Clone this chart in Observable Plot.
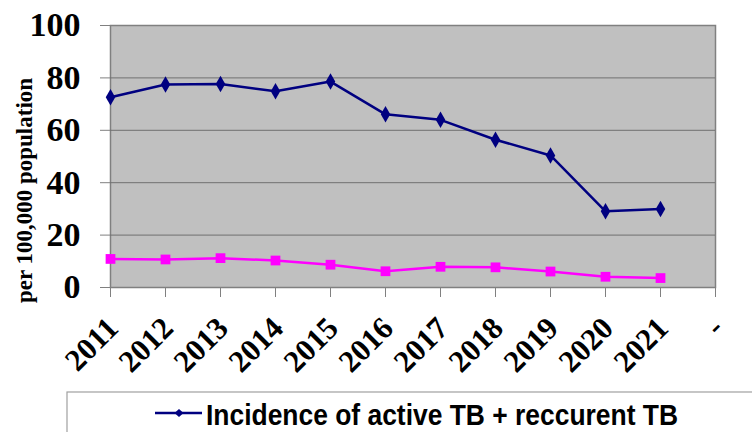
<!DOCTYPE html>
<html>
<head>
<meta charset="utf-8">
<script src="https://cdn.jsdelivr.net/npm/d3@7"></script>
<script src="https://cdn.jsdelivr.net/npm/@observablehq/plot@0.6"></script>
<style>
  html, body { margin: 0; padding: 0; background: #fff; }
  #wrap { position: relative; width: 752px; height: 432px; overflow: hidden; }
  #chart { position: absolute; left: 0; top: 0; }
  #legend { position: absolute; left: 0; top: 391px; }
</style>
</head>
<body>
<div id="wrap">
  <div id="chart"></div>
  <svg id="legend" width="752" height="41">
    <rect x="67" y="1" width="700" height="60" fill="#fff" stroke="#a0a0a0" stroke-width="1.2"/>
    <line x1="155" x2="202" y1="22" y2="22" stroke="#000080" stroke-width="2.5"/>
    <path d="M179,18 L183.5,22 L179,26 L174.5,22Z" fill="#000080"/>
    <text id="legendText" x="206" y="34" textLength="472" lengthAdjust="spacingAndGlyphs"
      font-family="'Liberation Sans', Arial, sans-serif" font-weight="bold" font-size="29" fill="#000"></text>
  </svg>
</div>
<script>
const years = ["2011","2012","2013","2014","2015","2016","2017","2018","2019","2020","2021"];
const categories = [...years, "-"];
const incidence = [72.6, 77.5, 77.7, 74.9, 78.6, 66.1, 64.0, 56.4, 50.4, 29.1, 30.0];
const otherSeries = [10.9, 10.7, 11.2, 10.3, 8.7, 6.2, 7.9, 7.7, 6.1, 4.1, 3.6];
const yTicks = [0, 20, 40, 60, 80, 100];
const yLabel = "per 100,000 population";
const legendLabel = "Incidence of active TB + reccurent TB";

document.getElementById("legendText").textContent = legendLabel;

const blue = years.map((y, i) => ({year: y, value: incidence[i]}));
const pink = years.map((y, i) => ({year: y, value: otherSeries[i]}));

const serif = "'Liberation Serif', 'Times New Roman', serif";

const chart = Plot.plot({
  width: 752,
  height: 391,
  marginTop: 25,
  marginBottom: 104,
  marginLeft: 110,
  marginRight: 37,
  style: {fontFamily: serif, background: "transparent", overflow: "visible"},
  x: {type: "point", domain: categories, padding: 0, axis: null},
  y: {domain: [0, 100], axis: null},
  marks: [
    Plot.frame({fill: "#c0c0c0", stroke: "#808080", strokeWidth: 1.5}),
    Plot.ruleY(yTicks.filter(d => d > 0 && d < 100), {stroke: "#707070", strokeWidth: 1}),
    Plot.axisY({ticks: yTicks, tickSize: 10, tickPadding: 20, stroke: "#808080",
      fontSize: 34, fontWeight: "bold", fill: "#000", label: null, tickFormat: d => String(d)}),
    Plot.axisX({ticks: categories, tickSize: 10, stroke: "#808080", label: null, text: null}),
    Plot.text(categories, {x: d => d, frameAnchor: "bottom", dx: -6, dy: 27, rotate: -45,
      textAnchor: "end", lineAnchor: "top", fontSize: 31, fontWeight: "bold", fill: "#000"}),
    Plot.text([yLabel], {frameAnchor: "left", dx: -86, dy: 34, rotate: -90, textAnchor: "middle",
      fontSize: 23, fontWeight: "bold", fill: "#000"}),
    Plot.line(pink, {x: "year", y: "value", stroke: "#ff00ff", strokeWidth: 2.5}),
    Plot.dot(pink, {x: "year", y: "value", symbol: "square", r: 5.5, fill: "#ff00ff"}),
    Plot.line(blue, {x: "year", y: "value", stroke: "#000080", strokeWidth: 2.5}),
    Plot.dot(blue, {x: "year", y: "value", symbol: "diamond", r: 5, fill: "#000080"})
  ]
});
document.getElementById("chart").appendChild(chart);
</script>
</body>
</html>
